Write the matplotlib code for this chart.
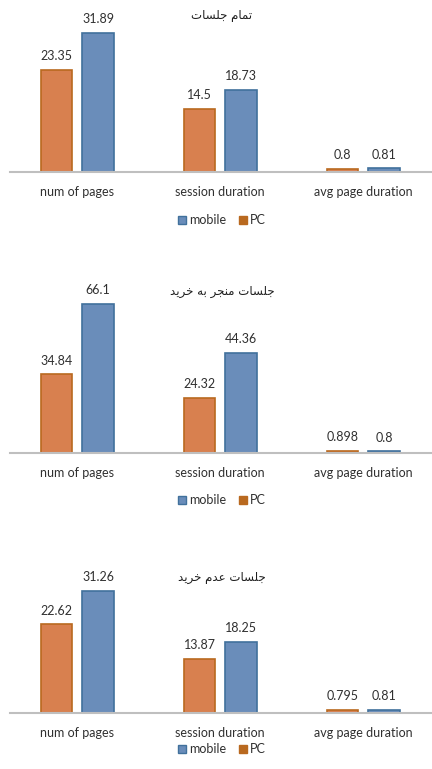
import matplotlib.pyplot as plt
from matplotlib.lines import Line2D

# داده ها
categories = ['num of pages', 'session duration', 'avg page duration']
titles = ['تمام جلسات', 'جلسات منجر به خرید', 'جلسات عدم خرید']
pc_all = [23.35, 14.5, 0.8]
mobile_all = [31.89, 18.73, 0.81]
pc_buy = [34.84, 24.32, 0.898]
mobile_buy = [66.1, 44.36, 0.8]
pc_nobuy = [22.62, 13.87, 0.795]
mobile_nobuy = [31.26, 18.25, 0.81]

# shaping ساده برای حروف فارسی (matplotlib خودش shaping نمیکنه)
forms = {
    'ا': ('\uFE8D', '\uFE8E', None, None),
    'ب': ('\uFE8F', '\uFE90', '\uFE91', '\uFE92'),
    'ت': ('\uFE95', '\uFE96', '\uFE97', '\uFE98'),
    'ج': ('\uFE9D', '\uFE9E', '\uFE9F', '\uFEA0'),
    'خ': ('\uFEA5', '\uFEA6', '\uFEA7', '\uFEA8'),
    'د': ('\uFEA9', '\uFEAA', None, None),
    'ر': ('\uFEAD', '\uFEAE', None, None),
    'س': ('\uFEB1', '\uFEB2', '\uFEB3', '\uFEB4'),
    'ع': ('\uFEC9', '\uFECA', '\uFECB', '\uFECC'),
    'ل': ('\uFEDD', '\uFEDE', '\uFEDF', '\uFEE0'),
    'م': ('\uFEE1', '\uFEE2', '\uFEE3', '\uFEE4'),
    'ن': ('\uFEE5', '\uFEE6', '\uFEE7', '\uFEE8'),
    'ه': ('\uFEE9', '\uFEEA', '\uFEEB', '\uFEEC'),
    'ی': ('\uFEEF', '\uFEF0', '\uFEF3', '\uFEF4'),
}


def shape(txt):
    out = []
    for i, ch in enumerate(txt):
        if ch not in forms:
            out.append(ch)
            continue
        prev = txt[i - 1] if i > 0 else ' '
        nxt = txt[i + 1] if i < len(txt) - 1 else ' '
        join_prev = prev in forms and forms[prev][2] is not None
        join_next = nxt in forms and forms[ch][2] is not None
        iso, fin, ini, med = forms[ch]
        if join_prev and join_next:
            out.append(med)
        elif join_prev:
            out.append(fin)
        elif join_next:
            out.append(ini)
        else:
            out.append(iso)
    return ''.join(out[::-1])


orange = '#D8804F'
orange_edge = '#B9691F'
blue = '#6A8DBA'
blue_edge = '#41719C'

W, H = 432, 769
fig = plt.figure(figsize=(W / 100, H / 100), dpi=100)
plt.rcParams['font.family'] = ['Lato', 'DejaVu Sans']

# (baseline px, top px, ymax, title y, legend y)
panels = [
    (pc_all, mobile_all, 172, 19, 35, 15, 220),
    (pc_buy, mobile_buy, 453, 295, 70, 291, 500),
    (pc_nobuy, mobile_nobuy, 713, 576, 35, 577, 749),
]

x = range(len(categories))
bw = 0.22
off = 0.145

for k, (pc, mob, base, top, ymax, ty, ly) in enumerate(panels):
    ax = fig.add_axes([10 / W, 1 - base / H, 422 / W, (base - top) / H])
    b1 = ax.bar([i - off for i in x], pc, bw, color=orange, edgecolor=orange_edge, linewidth=1.2)
    b2 = ax.bar([i + off for i in x], mob, bw, color=blue, edgecolor=blue_edge, linewidth=1.2)
    for bars, vals in ((b1, pc), (b2, mob)):
        for r, v in zip(bars, vals):
            ax.annotate(str(v), (r.get_x() + r.get_width() / 2, r.get_height()),
                        xytext=(0, 5.5), textcoords='offset points',
                        ha='center', va='bottom', fontsize=9, color='#303030')
    ax.set_xlim(-0.47, 2.48)
    ax.set_ylim(0, ymax)
    ax.set_yticks([])
    ax.set_xticks(list(x))
    ax.set_xticklabels(categories, fontsize=9, color='#303030')
    ax.tick_params(axis='x', length=0, pad=10)
    for s in ['top', 'right', 'left']:
        ax.spines[s].set_visible(False)
    ax.spines['bottom'].set_color('#BFBFBF')
    ax.spines['bottom'].set_linewidth(1.5)

    fig.text(222 / W, 1 - ty / H, shape(titles[k]), ha='center', va='center',
             fontsize=8.5, family='DejaVu Sans', color='#202020')

    handles = [Line2D([], [], marker='s', linestyle='', markersize=5.5,
                      markerfacecolor=blue, markeredgecolor=blue_edge),
               Line2D([], [], marker='s', linestyle='', markersize=5.5,
                      markerfacecolor=orange_edge, markeredgecolor=orange_edge)]
    fig.legend(handles, ['mobile', 'PC'], loc='center', bbox_to_anchor=(222 / W, 1 - ly / H),
               ncol=2, frameon=False, fontsize=9, handlelength=0.6, handletextpad=0.3,
               columnspacing=1.0, labelcolor='#303030')

fig.savefig('out.png', dpi=100)
